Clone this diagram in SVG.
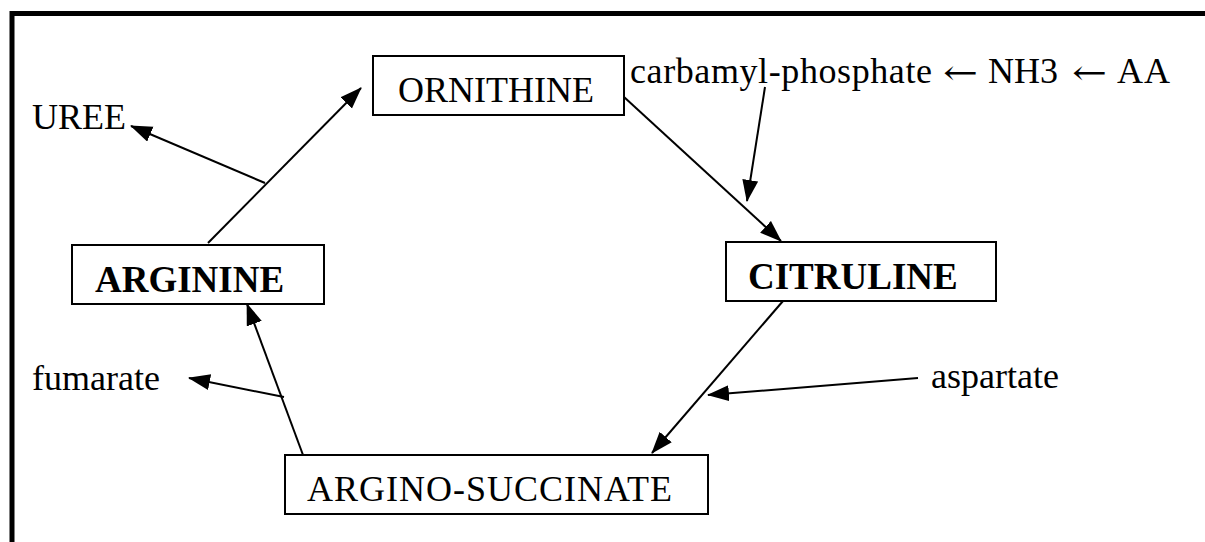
<svg xmlns="http://www.w3.org/2000/svg" width="1205" height="542" viewBox="0 0 1205 542">
<style>
.box{fill:#fff;stroke:#000;stroke-width:2}
.t{font-family:"Liberation Serif","Times New Roman",serif;font-size:36px;fill:#000}
.b{font-weight:bold;font-size:37px}
.ar{font-family:"DejaVu Serif",serif;font-size:34px;fill:#000}
.c{fill:none;stroke:#000;stroke-width:2}
</style>
<defs>
<marker id="ah" markerUnits="userSpaceOnUse" markerWidth="24" markerHeight="20" refX="21" refY="8" orient="auto">
<path d="M0,0 L22,8 L0,16 Z" fill="#000"/>
</marker>
</defs>
<rect width="1205" height="542" fill="#fff"/>
<path d="M12,542 L12,13.5 L1205,13.5" fill="none" stroke="#000" stroke-width="5"/>
<g id="connectors">
<line class="c" x1="208" y1="243" x2="361" y2="88" marker-end="url(#ah)"/>
<line class="c" x1="265" y1="183" x2="131" y2="126" marker-end="url(#ah)"/>
<line class="c" x1="624" y1="97" x2="781" y2="241" marker-end="url(#ah)"/>
<line class="c" x1="765" y1="87" x2="747" y2="201" marker-end="url(#ah)"/>
<line class="c" x1="783" y1="301" x2="652" y2="453" marker-end="url(#ah)"/>
<line class="c" x1="918" y1="378" x2="708" y2="395" marker-end="url(#ah)"/>
<line class="c" x1="303" y1="455" x2="247" y2="304" marker-end="url(#ah)"/>
<line class="c" x1="284" y1="397" x2="189" y2="378" marker-end="url(#ah)"/>
</g>
<g id="ornithine">
<rect class="box" x="373" y="56" width="251" height="59"/>
<text class="t" x="496" y="102" text-anchor="middle" font-size="37">ORNITHINE</text>
</g>
<g id="citruline">
<rect class="box" x="726" y="242" width="270" height="59"/>
<text class="t b" x="748" y="289">CITRULINE</text>
</g>
<g id="argino-succinate">
<rect class="box" x="285" y="455" width="423" height="59"/>
<text class="t" x="307" y="501" textLength="365">ARGINO-SUCCINATE</text>
</g>
<g id="arginine">
<rect class="box" x="72" y="245" width="252" height="59"/>
<text class="t b" x="95" y="292">ARGININE</text>
</g>
<g id="uree"><text class="t" x="32" y="129">UREE</text></g>
<g id="fumarate"><text class="t" x="32" y="390">fumarate</text></g>
<g id="aspartate"><text class="t" x="931" y="388">aspartate</text></g>
<g id="carbamyl">
<text class="t" x="630" y="83" textLength="302">carbamyl-phosphate</text>
<text class="ar" x="943" y="84" textLength="35" lengthAdjust="spacingAndGlyphs">←</text>
<text class="t" x="988" y="83" textLength="70">NH3</text>
<text class="ar" x="1072" y="84" textLength="35" lengthAdjust="spacingAndGlyphs">←</text>
<text class="t" x="1117" y="83" textLength="53">AA</text>
</g>
</svg>
